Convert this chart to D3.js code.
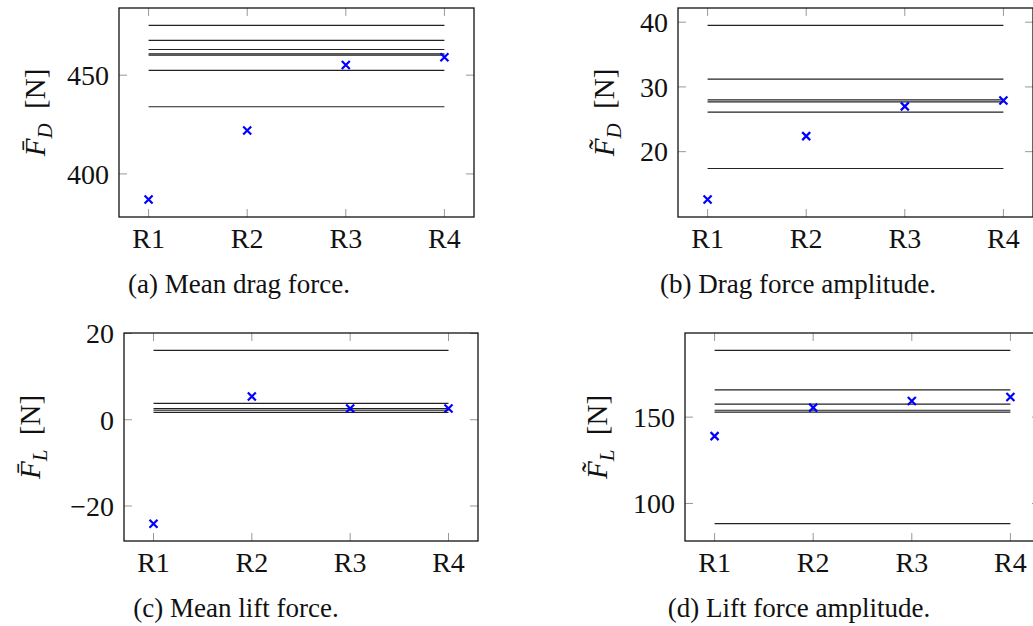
<!DOCTYPE html>
<html lang="en">
<head>
<meta charset="utf-8">
<title>Force comparison</title>
<script src="https://d3js.org/d3.v7.min.js"></script>
<style>
    body { margin: 0; background: #fff; }
    svg text { font-family: "Liberation Serif", "Times New Roman", serif; fill: #111; }
</style>
</head>
<body>
<div id="chart"></div>
<script>

    // categories on the x axis
    const categories = ["R1", "R2", "R3", "R4"]

    // (a) mean drag force
    const meanDragPts = [387.0, 422.0, 455.2, 459.1]
    const meanDragRefs = [475.2, 467.6, 463.0, 460.8, 460.2, 452.4, 434.0]
    const meanDragTicks = [400, 450]

    // (b) drag force amplitude
    const dragAmpPts = [12.6, 22.4, 27.0, 27.9]
    const dragAmpRefs = [39.5, 31.2, 28.0, 27.7, 26.1, 17.4]
    const dragAmpTicks = [20, 30, 40]

    // (c) mean lift force
    const meanLiftPts = [-24.1, 5.4, 2.6, 2.6]
    const meanLiftRefs = [16.1, 3.8, 2.6, 2.2, 1.7]
    const meanLiftTicks = [-20, 0, 20]

    // (d) lift force amplitude
    const liftAmpPts = [139.0, 155.5, 159.4, 161.7]
    const liftAmpRefs = [188.7, 165.8, 157.5, 154.0, 152.9, 88.3]
    const liftAmpTicks = [100, 150]

    const captions = ["(a) Mean drag force.", "(b) Drag force amplitude.", "(c) Mean lift force.", "(d) Lift force amplitude."]

    // layout of the four sub figures
    const panels = [
        {pts: meanDragPts, refs: meanDragRefs, ticks: meanDragTicks, accent: "\u0304", sub: "D",
         left: 119, top: 8, w: 355, h: 209, labelX: 35, capX: 239, capY: 293},
        {pts: dragAmpPts, refs: dragAmpRefs, ticks: dragAmpTicks, accent: "\u0303", sub: "D",
         left: 678, top: 8, w: 355, h: 209, labelX: 604, capX: 798, capY: 293},
        {pts: meanLiftPts, refs: meanLiftRefs, ticks: meanLiftTicks, accent: "\u0304", sub: "L",
         left: 124, top: 333, w: 354, h: 208, labelX: 30, capX: 236, capY: 617},
        {pts: liftAmpPts, refs: liftAmpRefs, ticks: liftAmpTicks, accent: "\u0303", sub: "L",
         left: 685, top: 333, w: 355, h: 208, labelX: 597, capX: 799, capY: 617}
    ]

    const svg = d3.select("#chart").append("svg")
        .attr("width", 1033)
        .attr("height", 626)

    const tickLen = 8
    const fmt = d => d < 0 ? "\u2212" + Math.abs(d) : String(d)

    panels.forEach((p, i) => {

        const g = svg.append("g").attr("transform", "translate(" + p.left + "," + p.top + ")")

        // x: categories by index, 10% padding each side like pgfplots
        const x = d3.scaleLinear()
            .domain([-0.3, categories.length - 1 + 0.3])
            .range([0, p.w])

        const all = p.pts.concat(p.refs)
        const ext = d3.extent(all)
        const pad = (ext[1] - ext[0]) * 0.1
        const y = d3.scaleLinear()
            .domain([ext[0] - pad, ext[1] + pad])
            .range([p.h, 0])

        // tick marks inside, mirrored on both sides
        const xt = g.append("g").attr("class", "ticks")
        categories.forEach((c, k) => {
            xt.append("line").attr("x1", x(k)).attr("x2", x(k)).attr("y1", p.h).attr("y2", p.h - tickLen)
            xt.append("line").attr("x1", x(k)).attr("x2", x(k)).attr("y1", 0).attr("y2", tickLen)
        })
        p.ticks.forEach(t => {
            xt.append("line").attr("x1", 0).attr("x2", tickLen).attr("y1", y(t)).attr("y2", y(t))
            xt.append("line").attr("x1", p.w).attr("x2", p.w - tickLen).attr("y1", y(t)).attr("y2", y(t))
        })
        xt.selectAll("line").attr("stroke", "#999").attr("stroke-width", 1)

        // reference lines
        g.selectAll(".ref")
            .data(p.refs)
            .enter()
            .append("line")
            .attr("x1", x(0))
            .attr("x2", x(categories.length - 1))
            .attr("y1", d => y(d))
            .attr("y2", d => y(d))
            .attr("stroke", "#222")
            .attr("stroke-width", 1.2)

        // frame
        g.append("rect")
            .attr("width", p.w)
            .attr("height", p.h)
            .attr("fill", "none")
            .attr("stroke", "#111")
            .attr("stroke-width", 1.3)

        // blue cross markers
        const s = 4
        g.selectAll(".mark")
            .data(p.pts)
            .enter()
            .append("path")
            .attr("d", (d, k) => {
                const cx = x(k), cy = y(d)
                return "M" + (cx - s) + "," + (cy - s) + "L" + (cx + s) + "," + (cy + s) +
                       "M" + (cx - s) + "," + (cy + s) + "L" + (cx + s) + "," + (cy - s)
            })
            .attr("stroke", "#0000ff")
            .attr("stroke-width", 2.2)
            .attr("fill", "none")

        // tick labels
        g.selectAll(".xl")
            .data(categories)
            .enter()
            .append("text")
            .attr("x", (d, k) => x(k))
            .attr("y", p.h + 31)
            .attr("text-anchor", "middle")
            .attr("font-size", 28)
            .text(d => d)

        g.selectAll(".yl")
            .data(p.ticks)
            .enter()
            .append("text")
            .attr("x", -10)
            .attr("y", d => y(d))
            .attr("dy", "0.35em")
            .attr("text-anchor", "end")
            .attr("font-size", 28)
            .text(fmt)

        // y axis label
        const lab = svg.append("text")
            .attr("transform", "translate(" + p.labelX + "," + (p.top + p.h / 2) + ") rotate(-90)")
            .attr("text-anchor", "middle")
            .attr("dy", "0.35em")
            .attr("font-size", 29)
        lab.append("tspan").attr("font-style", "italic").text("F" + p.accent)
        lab.append("tspan").attr("font-style", "italic").attr("font-size", 21).attr("dy", 7).text(p.sub)
        lab.append("tspan").attr("dy", -7).text("\u2002[N]")

        // caption
        svg.append("text")
            .attr("x", p.capX)
            .attr("y", p.capY)
            .attr("text-anchor", "middle")
            .attr("font-size", 27)
            .text(captions[i])
    })

</script>
</body>
</html>
